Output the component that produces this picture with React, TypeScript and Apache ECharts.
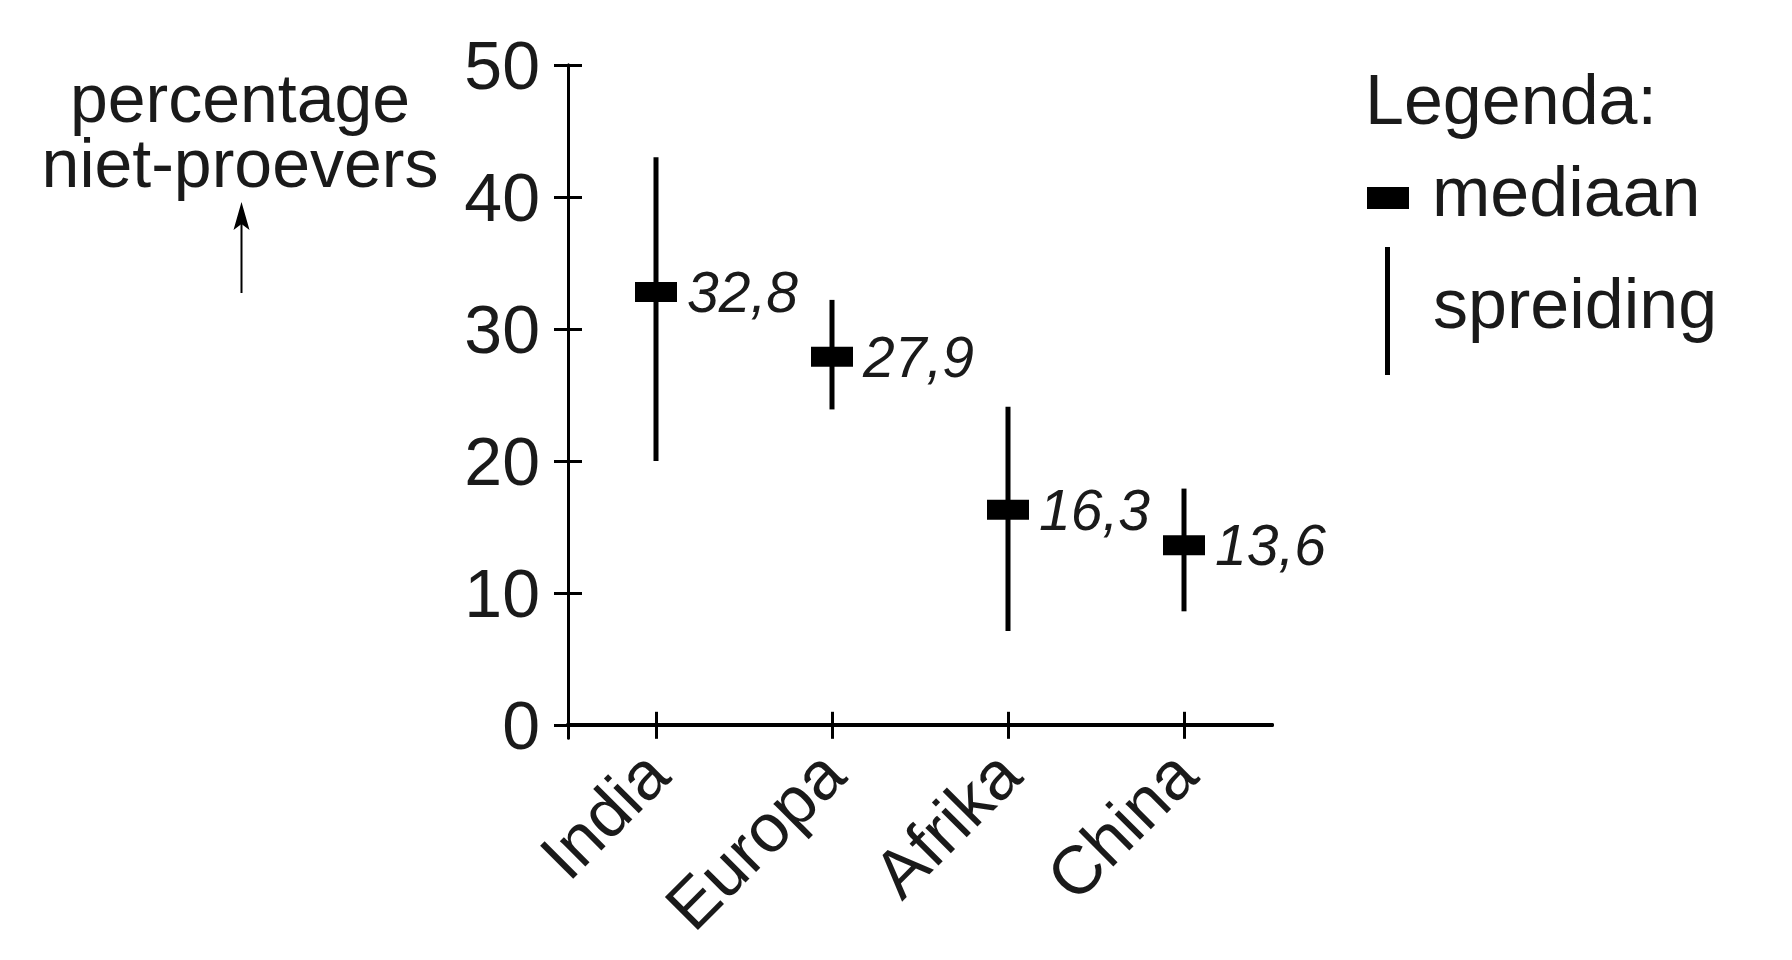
import React, { useEffect, useRef } from "react";
import * as echarts from "echarts";

const categories = ["India", "Europa", "Afrika", "China"];
const medians = [32.8, 27.9, 16.3, 13.6];
const lows = [20.0, 23.9, 7.1, 8.6];
const highs = [43.0, 32.2, 24.1, 17.9];
const yTicks = [0, 10, 20, 30, 40, 50];
const yTitle = ["percentage", "niet-proevers"];
const legendTitle = "Legenda:";
const legendMedian = "mediaan";
const legendSpread = "spreiding";

const FONT = "'Liberation Sans', Arial, Helvetica, sans-serif";
const TEXT = "#1a1a1a";
const FS = 68;
const LFS = 70;

export default function App() {
  const ref = useRef<HTMLDivElement>(null);

  useEffect(() => {
    document.body.style.margin = "0";
    if (!ref.current) return;
    const chart = echarts.init(ref.current, null, { renderer: "svg" });

    const baseX = {
      type: "category",
      data: categories,
      boundaryGap: true,
      position: "bottom",
      splitLine: { show: false },
    };
    const baseY = {
      type: "value",
      min: -1,
      max: 50,
      position: "left",
      splitLine: { show: false },
    };

    const option: any = {
      animation: false,
      backgroundColor: "#ffffff",
      textStyle: { fontFamily: FONT },
      grid: { left: 568, right: 520, top: 65, bottom: 222, containLabel: false },
      xAxis: [
        {
          ...baseX,
          axisLine: { show: true, onZero: true, lineStyle: { color: "#000", width: 4 } },
          axisTick: { show: true, alignWithLabel: true, length: 14, lineStyle: { color: "#000", width: 3 } },
          axisLabel: { show: true, rotate: 45, margin: 24, fontSize: FS, color: TEXT, fontFamily: FONT },
        },
        {
          ...baseX,
          axisLine: { show: true, onZero: true, lineStyle: { color: "#000", width: 4 } },
          axisTick: { show: true, inside: true, alignWithLabel: true, length: 13, lineStyle: { color: "#000", width: 3 } },
          axisLabel: { show: false },
        },
      ],
      yAxis: [
        {
          ...baseY,
          axisLine: { show: true, lineStyle: { color: "#000", width: 3 } },
          axisTick: { show: true, length: 14, customValues: yTicks, lineStyle: { color: "#000", width: 3 } },
          axisLabel: { show: true, customValues: yTicks, margin: 28, fontSize: FS, color: TEXT, fontFamily: FONT },
        },
        {
          ...baseY,
          axisLine: { show: true, lineStyle: { color: "#000", width: 3 } },
          axisTick: { show: true, inside: true, length: 14, customValues: yTicks, lineStyle: { color: "#000", width: 3 } },
          axisLabel: { show: false },
        },
      ],
      series: [
        {
          type: "custom",
          name: "spreiding",
          xAxisIndex: 0,
          yAxisIndex: 0,
          data: categories.map((_, i) => [i, lows[i], highs[i]]),
          renderItem: (params: any, api: any) => {
            const x = api.value(0);
            const lo = api.coord([x, api.value(1)]);
            const hi = api.coord([x, api.value(2)]);
            return {
              type: "line",
              shape: { x1: lo[0], y1: lo[1], x2: hi[0], y2: hi[1] },
              style: { stroke: "#000", lineWidth: 5 },
            };
          },
          z: 3,
        },
        {
          type: "scatter",
          name: "mediaan",
          xAxisIndex: 0,
          yAxisIndex: 0,
          data: categories.map((_, i) => [i, medians[i]]),
          symbol: "rect",
          symbolSize: [42, 20],
          itemStyle: { color: "#000", opacity: 1 },
          label: {
            show: true,
            position: "right",
            distance: 10,
            fontSize: 57,
            fontStyle: "italic",
            color: TEXT,
            opacity: 1,
            fontFamily: FONT,
            formatter: (p: any) => String(p.value[1]).replace(".", ","),
          },
          emphasis: { disabled: true },
          z: 4,
        },
      ],
      graphic: [
        {
          type: "text",
          x: 240,
          y: 130.5,
          style: {
            text: yTitle.join("\n"),
            font: `${FS}px ${FONT}`,
            lineHeight: 65,
            fill: TEXT,
            align: "center",
            verticalAlign: "middle",
          },
        },
        {
          type: "line",
          shape: { x1: 241.5, y1: 293, x2: 241.5, y2: 215 },
          style: { stroke: "#000", lineWidth: 2 },
        },
        {
          type: "polygon",
          shape: { points: [[241.5, 202], [233.5, 230], [241.5, 224], [249.5, 230]] },
          style: { fill: "#000" },
        },
        {
          type: "text",
          x: 1365,
          y: 100,
          style: { text: legendTitle, font: `${LFS}px ${FONT}`, fill: TEXT, align: "left", verticalAlign: "middle" },
        },
        {
          type: "rect",
          shape: { x: 1367, y: 187, width: 42, height: 22 },
          style: { fill: "#000" },
        },
        {
          type: "text",
          x: 1432,
          y: 192,
          style: { text: legendMedian, font: `${LFS}px ${FONT}`, fill: TEXT, align: "left", verticalAlign: "middle" },
        },
        {
          type: "line",
          shape: { x1: 1387.5, y1: 247, x2: 1387.5, y2: 375 },
          style: { stroke: "#000", lineWidth: 5 },
        },
        {
          type: "text",
          x: 1433,
          y: 304,
          style: { text: legendSpread, font: `${LFS}px ${FONT}`, fill: TEXT, align: "left", verticalAlign: "middle" },
        },
      ],
    };

    chart.setOption(option);
    return () => chart.dispose();
  }, []);

  return <div ref={ref} style={{ width: 1792, height: 960 }} />;
}
